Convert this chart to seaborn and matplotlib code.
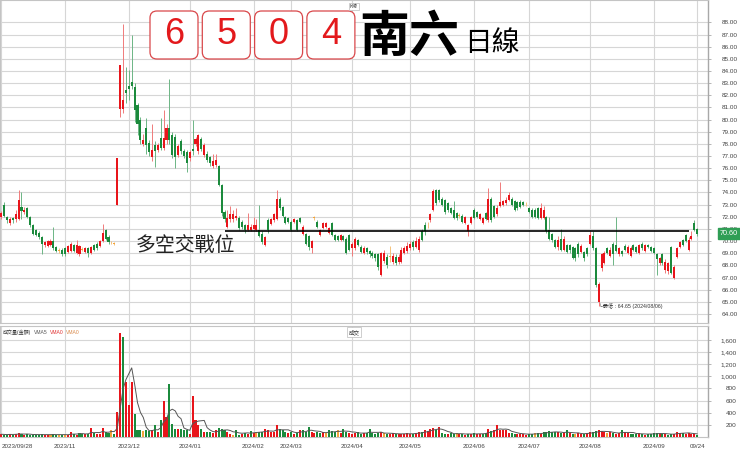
import numpy as np
import pandas as pd
import matplotlib
matplotlib.use("Agg")
import matplotlib.pyplot as plt
import seaborn as sns
from matplotlib import font_manager
from matplotlib.patches import FancyBboxPatch
from matplotlib.transforms import Affine2D

# 交易日：工作日扣除台股休市日
holidays = ["2023-10-09", "2023-10-10", "2024-01-01",
            "2024-02-06", "2024-02-07", "2024-02-08", "2024-02-09",
            "2024-02-12", "2024-02-13", "2024-02-14", "2024-02-28",
            "2024-04-04", "2024-04-05", "2024-05-01", "2024-06-10",
            "2024-07-24", "2024-07-25", "2024-09-17"]
dates = pd.bdate_range("2023-09-28", "2024-09-24")
dates = dates[~dates.isin(pd.to_datetime(holidays))]

open_ = [
    72.0, 73.0, 72.0, 71.5, 71.9, 71.8, 71.8, 72.8, 72.4, 72.7,
    72.0, 71.3, 70.9, 70.7, 70.3, 69.7, 69.6, 69.7, 70.0, 69.5,
    69.2, 69.3, 69.4, 69.1, 69.2, 69.7, 69.0, 68.9, 69.3, 69.1,
    69.4, 69.0, 69.7, 69.8, 69.6, 70.0, 70.9, 70.3, 69.9, 69.8,
    73.0, 80.9, 80.9, 82.4, 82.8, 83.1, 82.7, 81.2, 80.0, 78.0,
    79.3, 78.1, 76.9, 77.9, 77.5, 78.5, 77.7, 78.3, 79.3, 78.7,
    78.6, 77.1, 78.2, 77.4, 77.3, 76.8, 77.6, 78.0, 77.4, 78.4,
    77.1, 77.2, 76.9, 76.2, 76.3, 76.2, 74.6, 72.4, 71.2, 71.8,
    71.8, 71.9, 71.9, 71.6, 71.3, 70.9, 70.9, 71.0, 70.9, 70.9,
    70.6, 69.7, 71.7, 71.4, 71.7, 71.8, 73.5, 72.8, 72.0, 71.9,
    71.6, 71.6, 71.7, 71.9, 70.6, 70.6, 70.4, 69.4, 71.9, 71.6,
    70.5, 71.1, 71.2, 70.7, 71.5, 70.5, 70.4, 70.1, 70.4, 70.2,
    70.5, 69.4, 69.4, 70.1, 69.5, 69.0, 69.4, 69.2, 69.0, 68.9,
    68.9, 67.2, 68.4, 68.7, 68.7, 68.3, 68.7, 68.3, 68.3, 69.0,
    69.2, 69.4, 69.9, 69.5, 69.3, 70.8, 71.3, 71.3, 71.7, 72.6,
    74.2, 74.2, 73.5, 73.4, 73.1, 72.7, 72.6, 72.3, 72.1, 72.1,
    71.5, 70.8, 71.5, 72.6, 72.4, 71.8, 71.5, 72.3, 71.7, 73.5,
    72.9, 72.2, 72.9, 73.0, 73.1, 73.4, 73.5, 73.3, 73.2, 73.2,
    73.2, 73.1, 72.7, 72.6, 72.6, 72.7, 71.9, 71.9, 72.0, 70.9,
    70.6, 70.1, 69.5, 70.2, 69.3, 69.7, 69.7, 69.5, 69.4, 69.8,
    69.1, 69.1, 69.4, 69.8, 70.4, 69.4, 65.0, 67.8, 68.2, 69.4,
    68.8, 69.8, 69.7, 68.9, 69.2, 69.6, 69.0, 68.8, 69.7, 69.5,
    69.0, 69.8, 69.2, 69.7, 69.5, 69.4, 68.9, 68.2, 68.9, 67.6,
    67.5, 69.5, 67.0, 68.7, 69.5, 70.1, 70.5, 69.3, 70.2, 71.5,
    71.0]
high = [
    72.5, 73.2, 72.1, 72.0, 72.0, 72.6, 74.2, 74.0, 72.8, 72.8,
    72.1, 71.4, 71.0, 70.8, 70.4, 70.0, 70.1, 70.2, 71.2, 69.6,
    69.4, 69.4, 69.5, 69.7, 69.9, 69.8, 70.1, 69.7, 69.5, 69.5,
    69.5, 69.6, 69.8, 69.9, 70.1, 71.4, 71.0, 70.5, 70.0, 69.9,
    76.8, 84.5, 87.9, 84.3, 84.1, 87.0, 83.0, 81.4, 80.2, 78.8,
    80.1, 78.3, 79.6, 78.2, 78.1, 80.1, 80.8, 79.6, 83.3, 79.0,
    78.8, 78.0, 78.4, 77.6, 77.5, 77.5, 80.0, 78.6, 78.8, 78.6,
    78.1, 77.4, 77.0, 77.2, 77.2, 76.3, 74.7, 72.6, 72.6, 72.9,
    72.6, 72.7, 72.1, 71.7, 71.4, 72.3, 71.4, 72.0, 71.8, 73.0,
    70.8, 70.4, 71.9, 71.9, 72.3, 74.2, 73.6, 72.9, 72.1, 72.0,
    71.7, 71.9, 71.8, 72.0, 71.3, 70.7, 70.5, 70.1, 72.1, 71.7,
    71.0, 71.6, 71.6, 71.2, 71.6, 70.6, 70.5, 70.6, 70.5, 70.3,
    70.6, 69.9, 70.3, 70.2, 69.7, 69.6, 69.5, 69.3, 69.2, 69.0,
    69.0, 69.1, 69.3, 68.9, 69.6, 69.0, 68.9, 68.9, 69.5, 69.6,
    69.9, 70.0, 70.1, 70.3, 70.4, 71.0, 71.6, 71.6, 72.3, 74.3,
    74.3, 74.3, 73.6, 73.5, 73.2, 72.8, 73.3, 72.4, 72.3, 72.2,
    72.1, 71.4, 72.1, 72.7, 72.5, 72.3, 72.0, 72.4, 74.4, 73.6,
    73.0, 73.0, 74.9, 73.4, 73.6, 74.0, 73.6, 73.4, 73.3, 73.4,
    73.3, 73.2, 72.8, 72.7, 72.7, 72.8, 73.1, 72.9, 72.1, 72.0,
    70.7, 70.2, 70.4, 71.0, 70.4, 69.8, 69.8, 69.6, 69.5, 69.9,
    69.8, 69.2, 69.5, 70.8, 70.8, 69.5, 66.6, 69.0, 69.2, 69.5,
    69.5, 69.9, 72.0, 69.5, 69.3, 69.8, 69.7, 69.6, 69.8, 69.6,
    69.8, 69.9, 69.8, 69.8, 69.6, 69.5, 69.0, 68.7, 69.0, 68.5,
    68.3, 69.6, 68.0, 69.5, 70.0, 70.2, 70.6, 70.3, 70.8, 71.7,
    71.1]
low = [
    71.8, 72.0, 71.5, 71.3, 71.5, 71.6, 71.7, 71.8, 72.2, 71.9,
    71.2, 70.5, 70.4, 70.2, 68.9, 69.5, 69.5, 69.6, 69.3, 69.1,
    69.0, 68.8, 68.8, 69.0, 69.1, 69.1, 68.9, 68.8, 69.2, 69.0,
    68.7, 68.9, 69.2, 69.3, 69.5, 69.9, 70.1, 69.8, 69.8, 69.7,
    73.0, 80.2, 80.5, 81.4, 81.6, 82.5, 79.8, 78.7, 78.0, 77.8,
    77.2, 77.0, 76.6, 76.1, 77.3, 77.5, 77.5, 78.0, 78.0, 76.8,
    76.0, 76.9, 77.2, 76.8, 75.7, 76.6, 77.1, 77.8, 77.2, 77.4,
    76.9, 76.5, 76.2, 76.0, 76.1, 74.5, 72.1, 71.6, 71.1, 71.6,
    71.6, 71.7, 70.9, 71.0, 70.7, 70.8, 70.8, 70.9, 70.8, 70.3,
    69.8, 69.6, 70.7, 71.3, 71.6, 71.7, 72.6, 72.0, 71.4, 71.5,
    70.8, 71.5, 70.8, 71.5, 70.5, 69.7, 69.3, 69.0, 71.7, 71.1,
    70.4, 71.0, 71.1, 70.6, 70.4, 70.0, 70.0, 70.0, 70.0, 68.9,
    69.2, 68.8, 69.3, 69.6, 69.0, 68.9, 68.9, 68.7, 68.6, 68.4,
    67.6, 67.1, 68.2, 67.8, 68.3, 68.1, 68.0, 68.1, 68.2, 68.9,
    69.0, 69.3, 69.3, 69.4, 69.1, 70.0, 70.5, 71.1, 71.6, 72.5,
    73.0, 73.2, 72.9, 72.2, 72.4, 72.2, 71.8, 71.7, 71.9, 71.5,
    71.4, 70.4, 71.4, 71.8, 71.9, 71.7, 71.4, 71.7, 71.6, 71.6,
    71.9, 72.1, 72.8, 72.9, 73.0, 73.3, 72.9, 72.5, 72.6, 72.7,
    72.9, 72.9, 72.3, 71.9, 71.9, 71.8, 71.8, 71.8, 70.7, 70.1,
    69.9, 69.4, 69.3, 69.2, 69.2, 69.0, 69.0, 68.5, 68.4, 68.7,
    69.0, 68.4, 68.8, 69.7, 69.3, 66.2, 64.65, 67.5, 68.1, 68.9,
    68.7, 68.0, 69.1, 68.8, 68.8, 69.2, 68.9, 68.7, 69.2, 69.0,
    68.9, 69.3, 69.1, 69.4, 69.1, 68.9, 67.2, 68.0, 68.0, 67.4,
    67.3, 67.3, 66.9, 68.6, 69.4, 69.6, 69.9, 69.2, 70.1, 70.8,
    70.4]
close = [
    72.3, 72.1, 71.7, 71.8, 71.7, 72.2, 73.4, 72.5, 72.6, 72.0,
    71.3, 70.6, 70.5, 70.3, 69.8, 69.9, 70.0, 70.0, 69.4, 69.2,
    69.2, 68.9, 68.9, 69.6, 69.8, 69.2, 69.7, 69.6, 69.3, 69.4,
    69.0, 69.5, 69.3, 69.4, 70.0, 70.7, 70.2, 69.9, 69.9, 69.8,
    76.8, 84.5, 81.6, 82.2, 82.5, 82.8, 80.8, 79.6, 78.3, 78.3,
    77.9, 77.3, 77.5, 77.4, 77.9, 77.7, 78.5, 79.3, 78.3, 77.1,
    76.9, 77.8, 77.4, 77.0, 76.4, 77.3, 77.4, 78.4, 78.7, 77.6,
    77.9, 76.7, 76.4, 76.6, 76.7, 74.6, 72.3, 71.8, 71.9, 72.2,
    72.2, 72.1, 71.1, 71.2, 70.9, 71.3, 71.2, 71.3, 71.3, 70.4,
    69.9, 70.3, 70.9, 71.8, 72.2, 73.5, 72.7, 72.1, 71.5, 71.6,
    70.9, 71.8, 70.9, 71.6, 71.2, 69.8, 69.5, 70.0, 71.9, 71.2,
    70.9, 71.5, 71.5, 71.1, 70.5, 70.1, 70.1, 70.5, 70.1, 69.0,
    69.3, 69.8, 70.2, 69.7, 69.1, 69.4, 69.1, 68.9, 68.8, 68.6,
    67.9, 69.0, 69.0, 68.0, 68.7, 68.8, 68.2, 68.7, 69.3, 69.4,
    69.6, 69.8, 69.5, 70.0, 70.2, 70.1, 70.8, 71.3, 72.2, 74.1,
    73.1, 73.4, 73.0, 72.4, 72.6, 72.3, 71.9, 71.9, 72.1, 71.6,
    72.0, 71.3, 72.0, 71.9, 72.0, 72.2, 71.9, 71.8, 73.5, 71.7,
    72.0, 72.7, 73.2, 73.3, 73.4, 73.8, 73.0, 72.6, 72.7, 72.8,
    73.0, 73.1, 72.4, 72.0, 72.0, 71.9, 72.7, 72.6, 70.8, 70.2,
    70.1, 69.5, 70.1, 69.3, 70.2, 69.1, 69.3, 68.6, 68.6, 68.9,
    69.6, 68.6, 68.9, 70.5, 69.4, 66.4, 66.5, 68.9, 69.0, 69.0,
    69.3, 68.9, 69.2, 69.4, 68.9, 69.3, 69.5, 69.4, 69.3, 69.1,
    69.7, 69.4, 69.7, 69.5, 69.2, 69.0, 68.5, 68.6, 68.2, 68.3,
    68.2, 67.4, 67.9, 69.4, 69.9, 69.7, 70.0, 70.1, 70.4, 70.9,
    70.6]
volume = [
    45, 40, 35, 50, 40, 55, 60, 45, 40, 45,
    40, 35, 40, 35, 45, 40, 35, 40, 45, 35,
    40, 35, 40, 35, 82, 45, 40, 70, 45, 50,
    55, 148, 60, 55, 45, 154, 80, 60, 110, 45,
    412, 1713, 1647, 906, 522, 906, 384, 110, 110, 95,
    110, 95, 110, 192, 82, 275, 587, 330, 878, 220,
    137, 137, 137, 110, 110, 55, 680, 275, 192, 137,
    82, 82, 82, 65, 110, 148, 137, 110, 82, 55,
    40, 120, 40, 55, 70, 55, 95, 70, 80, 90,
    75, 137, 110, 80, 75, 192, 137, 110, 80, 70,
    82, 55, 70, 120, 110, 80, 165, 82, 70, 82,
    60, 75, 70, 110, 95, 80, 110, 70, 137, 82,
    70, 55, 60, 80, 55, 70, 60, 137, 60, 55,
    70, 80, 60, 55, 45, 60, 55, 50, 45, 55,
    60, 55, 50, 70, 80, 82, 110, 95, 137, 154,
    120, 165, 60, 55, 50, 65, 45, 60, 55, 45,
    40, 50, 55, 60, 45, 50, 55, 70, 137, 95,
    110, 203, 120, 110, 110, 70, 60, 55, 50, 55,
    45, 40, 45, 50, 70, 60, 55, 80, 82, 95,
    82, 80, 75, 70, 60, 110, 65, 55, 50, 60,
    55, 50, 70, 80, 82, 95, 110, 95, 82, 70,
    80, 60, 55, 60, 120, 80, 60, 55, 50, 45,
    60, 50, 40, 45, 55, 60, 70, 55, 45, 50,
    40, 45, 55, 82, 70, 60, 55, 70, 50, 45,
    40]

stock_code = "6504"
stock_name = "南六"
support_level = 70.8
support_start = "2024-01-18"
support_end = "2024-09-19"
support_label = "多空交戰位"
vol_header = [("成交量(金額)", "#333333"), ("VMA5", "#555555"), ("VMA0", "#e03030"), ("VMA0", "#d9894a")]

sns.set_theme(style="white")
plt.rcParams["font.family"] = ["Noto Sans CJK TC", "DejaVu Sans"]
installed = {f.name for f in font_manager.fontManager.ttflist}
narrow = "Liberation Sans Narrow" if "Liberation Sans Narrow" in installed else "Liberation Sans"
num_font = [narrow, "Noto Sans CJK TC", "DejaVu Sans"]

W, H = 740, 451
fig = plt.figure(figsize=(W / 100, H / 100), dpi=100)
px = Affine2D().scale(1 / W, 1 / H) + fig.transFigure


def fx(x):
    return x / W


def fy(y):
    return 1 - y / H


ax = fig.add_axes([0, fy(323), fx(708), 323 / H])
axv = fig.add_axes([0, fy(437), fx(708), (437 - 326) / H])

df = pd.DataFrame({"date": dates, "open": open_, "high": high, "low": low,
                   "close": close, "volume": volume})
df["x"] = np.arange(len(df))
# K棒顏色看收盤對開盤，量柱顏色看收盤對前一日收盤
df["dir"] = np.select([df.close > df.open, df.close < df.open], ["up", "down"], "flat")
chg = df.close.diff().fillna(df.close - df.open)
df["vdir"] = np.select([chg > 0, chg < 0], ["up", "down"], "flat")
body_col = {"up": "#e8151b", "down": "#1b8a3c", "flat": "#f2a33a"}
wick_col = {"up": "#f07a7a", "down": "#6cb585", "flat": "#f5c27a"}

# K線
ax.vlines(df.x, df.low, df.high, colors=df.dir.map(wick_col), linewidth=0.7, zorder=2)
ax.bar(df.x, np.maximum((df.close - df.open).abs(), 0.06), bottom=np.minimum(df.open, df.close),
       width=0.7, color=df.dir.map(body_col), linewidth=0, zorder=3)

# 成交量 + VMA5
axv.bar(df.x, df.volume, width=0.7, color=df.vdir.map(body_col), linewidth=0, zorder=3)
df["vma5"] = df.volume.rolling(5, min_periods=1).mean()
sns.lineplot(data=df, x="x", y="vma5", color="#555555", linewidth=0.7, ax=axv, zorder=4)

# 月份刻度
month_start = df.index[df.date.dt.month != df.date.dt.month.shift()].tolist()[2:]
tick_idx = [0] + month_start + [len(df) - 1]
tick_lbl = [df.date[0].strftime("%Y/%m/%d")] + [df.date[i].strftime("%Y/%m") for i in month_start] \
    + [df.date.iloc[-1].strftime("%m/%d")]

x_lim = (-0.41, 243.7)
for a in (ax, axv):
    a.set_xlim(*x_lim)
    a.set_xticks(tick_idx)
    a.grid(True, color="#d6d6d6", linewidth=0.8)
    a.set_axisbelow(True)
    a.yaxis.tick_right()
    for s in a.spines.values():
        s.set_color("#c4c4c4")
        s.set_linewidth(0.8)
    a.spines["right"].set_color("#a8a8a8")
    a.spines["right"].set_linewidth(1.0)
    a.set_xlabel("")
    a.set_ylabel("")

ax.tick_params(axis="x", length=0, labelbottom=False)
axv.set_xticklabels(tick_lbl, fontsize=4.5, color="#444", family=num_font)
axv.get_xticklabels()[0].set_ha("left")
axv.tick_params(axis="x", length=0, pad=5)

price_ticks = np.arange(64, 89)
ax.set_ylim(63.26, 89.84)
ax.set_yticks(price_ticks)
ax.set_yticklabels([f"{v:.2f}" for v in price_ticks], fontsize=4.6, color="#444", family=num_font)
ax.tick_params(axis="y", length=2.2, width=0.5, color="#999", pad=7.5)

vol_ticks = np.arange(200, 1601, 200)
axv.set_ylim(0, 1828)
axv.set_yticks(vol_ticks)
axv.set_yticklabels([f"{v:,}" for v in vol_ticks], fontsize=4.6, color="#444", family=num_font)
axv.tick_params(axis="y", length=2.2, width=0.5, color="#999", pad=18.5)
for t in axv.get_yticklabels():
    t.set_ha("right")

# 多空交戰位
s0 = df.index[df.date == pd.Timestamp(support_start)][0]
s1 = df.index[df.date == pd.Timestamp(support_end)][0]
ax.hlines(support_level, s0, s1, color="black", linewidth=1.2, zorder=5)
fig.text(fx(136), fy(245), support_label, fontsize=14.3, color="#222", va="center", ha="left")

# 最低價標註
i_low = df.low.idxmin()
ax.text(i_low, df.low[i_low], f"└最低 : {df.low[i_low]:.2f} ({df.date[i_low]:%Y/%m/%d})",
        fontsize=3.8, family=num_font, color="#333", va="center", ha="left", zorder=6)

# 最新價
ax.text(1.017, df.close.iloc[-1], f"{df.close.iloc[-1]:.2f}", transform=ax.get_yaxis_transform(),
        fontsize=5.2, color="white", family=num_font, va="center", ha="left", clip_on=False, zorder=10,
        bbox=dict(boxstyle="square,pad=0.25", fc="#2f9e55", ec="#2f9e55"))

# 標題
for i, ch in enumerate(stock_code):
    x0 = 150 + i * 52.3
    fig.patches.append(FancyBboxPatch((x0, H - 59), 48, 48, boxstyle="round,pad=0,rounding_size=7",
                                      transform=px, fc="white", ec="#d9474a", lw=0.9))
    fig.text(fx(x0 + 24), fy(35), ch, fontsize=26, color="#e3191c", family="Liberation Sans",
             ha="center", va="center")
fig.text(fx(359), fy(37), stock_name, fontsize=36, weight="bold", color="black", ha="left", va="center")
fig.text(fx(464), fy(43), "日線", fontsize=20, color="black", ha="left", va="center")
fig.text(fx(354), fy(6.5), "K線", fontsize=3.5, color="#333", ha="center", va="center",
         bbox=dict(boxstyle="square,pad=0.3", fc="white", ec="#bbbbbb", lw=0.5))

# 成交量標頭：依序排列，避免重疊
renderer = fig.canvas.get_renderer()
hx = 3
for txt, col in vol_header:
    t = fig.text(fx(hx), fy(332), txt, fontsize=3.6, color=col, va="center", family=num_font)
    hx += t.get_window_extent(renderer).width + 2.5
fig.text(fx(354), fy(332), "成交", fontsize=4, color="#333", ha="center", va="center",
         bbox=dict(boxstyle="square,pad=0.3", fc="white", ec="#bbbbbb", lw=0.5))

fig.savefig("out.png", dpi=100)
